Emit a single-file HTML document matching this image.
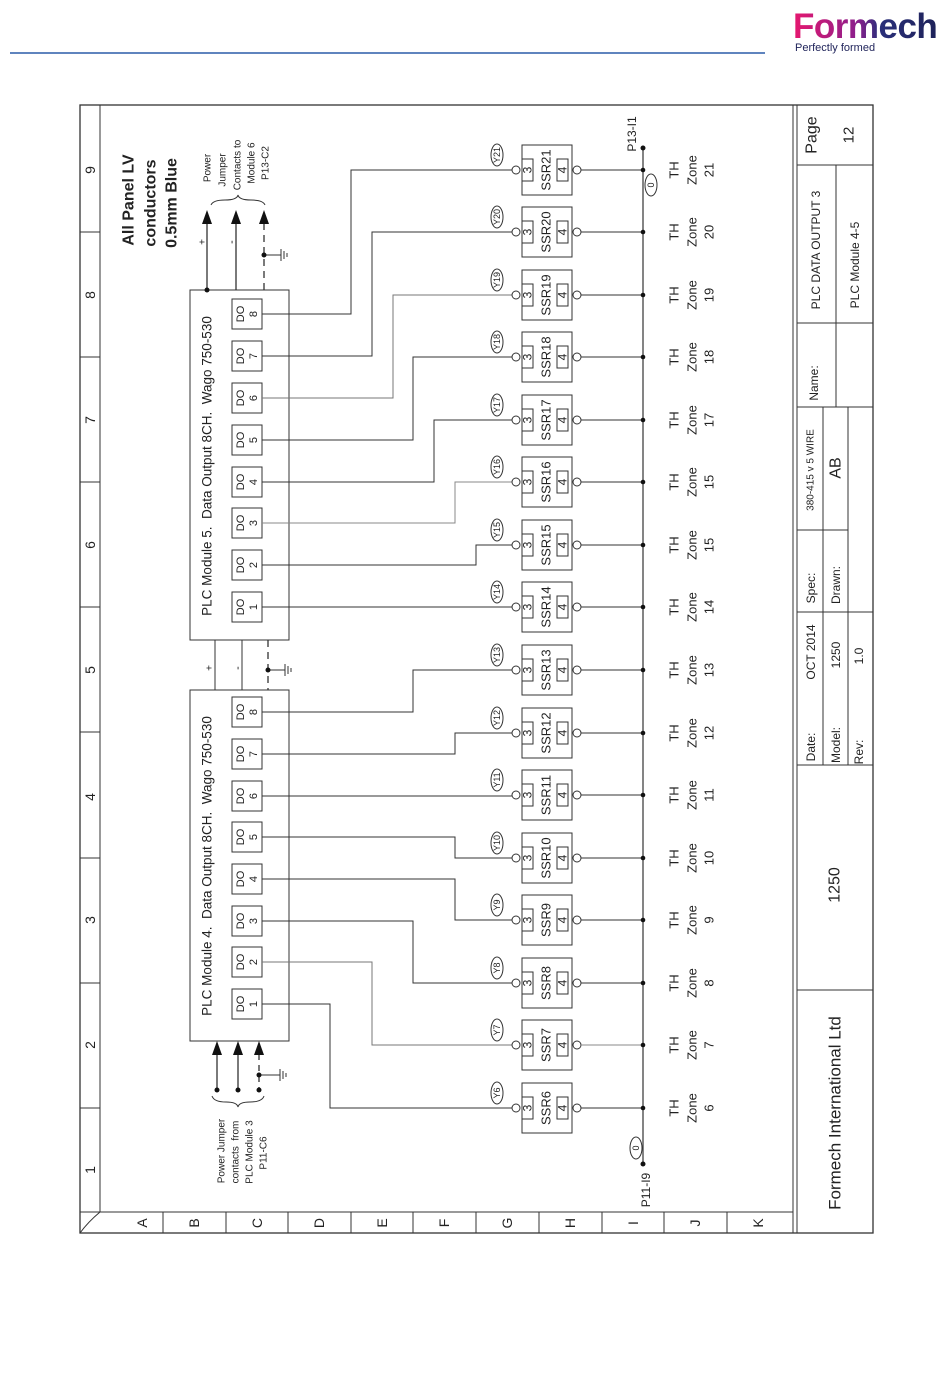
<!DOCTYPE html>
<html><head><meta charset="utf-8"><style>
html,body{margin:0;padding:0;background:#fff;}
svg{display:block;}
text{font-family:"Liberation Sans",Arial,sans-serif;fill:#222;}
.r{text-anchor:middle;dominant-baseline:central;}
</style></head><body>
<svg width="950" height="1387" viewBox="0 0 950 1387" xmlns="http://www.w3.org/2000/svg">
<defs>
<linearGradient id="lg" x1="0" x2="1" y1="0" y2="0"><stop offset="0" stop-color="#e6176f"/><stop offset="0.45" stop-color="#8a1f8c"/><stop offset="0.6" stop-color="#2a2f7a"/><stop offset="1" stop-color="#1e2259"/></linearGradient>
<g id="gnd" stroke="#333" stroke-width="1" fill="none"><line x1="0" y1="-6" x2="0" y2="6"/><line x1="3" y1="-4" x2="3" y2="4"/><line x1="6" y1="-2" x2="6" y2="2"/></g>
</defs>
<!-- header -->
<text x="793" y="38" style="font-size:35px;font-weight:bold;fill:url(#lg);letter-spacing:-0.5px">Formech</text>
<text x="795" y="51" style="font-size:11px;fill:#1e2259">Perfectly formed</text>
<line x1="10" y1="53" x2="765" y2="53" stroke="#2a5ca8" stroke-width="1.5"/>

<g stroke="#333" fill="none" stroke-width="1">
<!-- frame -->
<rect x="80" y="105" width="793" height="1128" stroke-width="1.3"/>
<line x1="100" y1="105" x2="100" y2="1212"/>
<line x1="80" y1="1212" x2="793" y2="1212"/>
<line x1="793" y1="105" x2="793" y2="1233"/>
<line x1="797" y1="105" x2="797" y2="1233"/>
<path d="M80 1233 Q88 1222 100 1212" />
<!-- column dividers -->
<line x1="80" y1="232" x2="100" y2="232"/><line x1="80" y1="357" x2="100" y2="357"/><line x1="80" y1="482" x2="100" y2="482"/><line x1="80" y1="607" x2="100" y2="607"/><line x1="80" y1="732" x2="100" y2="732"/><line x1="80" y1="858" x2="100" y2="858"/><line x1="80" y1="983" x2="100" y2="983"/><line x1="80" y1="1108" x2="100" y2="1108"/>
<!-- row dividers -->
<line x1="163" y1="1212" x2="163" y2="1233"/><line x1="226" y1="1212" x2="226" y2="1233"/><line x1="288" y1="1212" x2="288" y2="1233"/><line x1="351" y1="1212" x2="351" y2="1233"/><line x1="413" y1="1212" x2="413" y2="1233"/><line x1="476" y1="1212" x2="476" y2="1233"/><line x1="539" y1="1212" x2="539" y2="1233"/><line x1="602" y1="1212" x2="602" y2="1233"/><line x1="664" y1="1212" x2="664" y2="1233"/><line x1="727" y1="1212" x2="727" y2="1233"/>
<!-- title block -->
<line x1="797" y1="165" x2="873" y2="165"/>
<line x1="836" y1="165" x2="836" y2="407"/>
<line x1="797" y1="323" x2="873" y2="323"/>
<line x1="797" y1="407" x2="873" y2="407"/>
<line x1="823" y1="407" x2="823" y2="765"/>
<line x1="848" y1="407" x2="848" y2="765"/>
<line x1="797" y1="530" x2="848" y2="530"/>
<line x1="797" y1="612" x2="873" y2="612"/>
<line x1="797" y1="765" x2="873" y2="765"/>
<line x1="797" y1="990" x2="873" y2="990"/>

<!-- modules -->
<rect x="190" y="290" width="99" height="350"/>
<rect x="190" y="690" width="99" height="351"/>
<!-- DO boxes module5 -->
<rect x="232" y="299" width="30" height="30"/><rect x="232" y="341" width="30" height="30"/><rect x="232" y="383" width="30" height="30"/><rect x="232" y="425" width="30" height="30"/><rect x="232" y="467" width="30" height="30"/><rect x="232" y="508" width="30" height="30"/><rect x="232" y="550" width="30" height="30"/><rect x="232" y="592" width="30" height="30"/>
<!-- DO boxes module4 -->
<rect x="232" y="697" width="30" height="30"/><rect x="232" y="739" width="30" height="30"/><rect x="232" y="781" width="30" height="30"/><rect x="232" y="822" width="30" height="30"/><rect x="232" y="864" width="30" height="30"/><rect x="232" y="906" width="30" height="30"/><rect x="232" y="947" width="30" height="30"/><rect x="232" y="989" width="30" height="30"/>

<!-- wires module 4 -->
<polyline points="262,712 413,712 413,670 512,670"/>
<polyline points="262,754 455,754 455,733 512,733"/>
<polyline points="262,796 512,796"/>
<polyline points="262,837 455,837 455,858 512,858"/>
<polyline points="262,879 455,879 455,920 512,920"/>
<polyline points="262,921 413,921 413,983 512,983"/>
<polyline points="262,962 372,962 372,1045 512,1045" stroke="#777"/>
<polyline points="262,1004 330,1004 330,1108 512,1108"/>
<!-- wires module 5 -->
<polyline points="262,314 351,314 351,170 512,170"/>
<polyline points="262,356 372,356 372,232 512,232"/>
<polyline points="262,398 393,398 393,295 512,295" stroke="#777"/>
<polyline points="262,440 413,440 413,357 512,357"/>
<polyline points="262,482 434,482 434,420 512,420"/>
<polyline points="262,523 455,523 455,482 512,482" stroke="#888"/>
<polyline points="262,565 476,565 476,545 512,545"/>
<polyline points="262,607 512,607"/>

<!-- bus -->
<line x1="643" y1="148" x2="643" y2="1164" stroke-width="1.2"/>
<ellipse cx="651" cy="185" rx="6" ry="11"/>
<ellipse cx="636" cy="1148" rx="6" ry="11"/>

<!-- power top module5 -->
<line x1="207" y1="290" x2="207" y2="222" stroke-width="1.3"/>
<line x1="236" y1="290" x2="236" y2="222" stroke-width="1.3"/>
<line x1="264" y1="290" x2="264" y2="222" stroke-dasharray="7,5" stroke-width="1.3"/>
<line x1="264" y1="255" x2="281" y2="255"/>
<use href="#gnd" x="281" y="255"/>
<path d="M211 205 Q213 200 225 200 Q237 200 238 195 Q239 200 251 200 Q263 200 265 205"/>
<!-- between modules -->
<line x1="215" y1="640" x2="215" y2="690"/>
<line x1="242" y1="640" x2="242" y2="690"/>
<line x1="268" y1="640" x2="268" y2="690" stroke-dasharray="7,5" stroke-width="1.3"/>
<line x1="268" y1="670" x2="285" y2="670"/>
<use href="#gnd" x="285" y="670"/>
<!-- bottom module4 -->
<line x1="217" y1="1054" x2="217" y2="1090" stroke-width="1.3"/>
<line x1="238" y1="1054" x2="238" y2="1090" stroke-width="1.3"/>
<line x1="259" y1="1054" x2="259" y2="1090" stroke-dasharray="6,5" stroke-width="1.3"/>
<line x1="259" y1="1075" x2="280" y2="1075"/>
<use href="#gnd" x="280" y="1075"/>
<path d="M212 1096 Q214 1102 226 1102 Q237 1102 238 1107 Q239 1102 250 1102 Q262 1102 264 1096"/>
</g>
<g fill="#111" stroke="none">
<polygon points="207,210 202,224 212,224"/><polygon points="236,210 231,224 241,224"/><polygon points="264,210 259,224 269,224"/>
<circle cx="207" cy="290" r="2.5"/><circle cx="264" cy="255" r="2.5"/><circle cx="268" cy="670" r="2.5"/>
<polygon points="217,1041 212,1055 222,1055"/><polygon points="238,1041 233,1055 243,1055"/><polygon points="259,1041 254,1055 264,1055"/>
<circle cx="217" cy="1090" r="2.5"/><circle cx="238" cy="1090" r="2.5"/><circle cx="259" cy="1090" r="2.5"/><circle cx="259" cy="1075" r="2.5"/>
<circle cx="643" cy="148" r="2.5"/><circle cx="643" cy="1164" r="2.5"/>
</g>

<!-- SSR groups -->
<g id="ssrs" stroke="#333" fill="none">
</g>
<g transform="translate(0,170)"><g stroke="#333" fill="none"><rect x="522" y="-25" width="50" height="50"/><rect x="522" y="-11" width="11" height="22"/><rect x="557" y="-11" width="11" height="22"/><circle cx="516" cy="0" r="4" fill="#fff"/><circle cx="577" cy="0" r="4" fill="#fff"/><line x1="581" y1="0" x2="643" y2="0"/><ellipse cx="497" cy="-15" rx="6" ry="11"/></g><circle cx="643" cy="0" r="2.3" fill="#111"/><text class="r" transform="translate(497,-15) rotate(-90)" style="font-size:9px">Y21</text><text class="r" transform="translate(527.5,0) rotate(-90)" style="font-size:12px">3</text><text class="r" transform="translate(562.5,0) rotate(-90)" style="font-size:12px">4</text><text class="r" transform="translate(546,0) rotate(-90)" style="font-size:13px">SSR21</text><text class="r" transform="translate(674,0) rotate(-90)" style="font-size:13px">TH</text><text class="r" transform="translate(692,0) rotate(-90)" style="font-size:13px">Zone</text><text class="r" transform="translate(709,0) rotate(-90)" style="font-size:13px">21</text></g>
<g transform="translate(0,232)"><g stroke="#333" fill="none"><rect x="522" y="-25" width="50" height="50"/><rect x="522" y="-11" width="11" height="22"/><rect x="557" y="-11" width="11" height="22"/><circle cx="516" cy="0" r="4" fill="#fff"/><circle cx="577" cy="0" r="4" fill="#fff"/><line x1="581" y1="0" x2="643" y2="0"/><ellipse cx="497" cy="-15" rx="6" ry="11"/></g><circle cx="643" cy="0" r="2.3" fill="#111"/><text class="r" transform="translate(497,-15) rotate(-90)" style="font-size:9px">Y20</text><text class="r" transform="translate(527.5,0) rotate(-90)" style="font-size:12px">3</text><text class="r" transform="translate(562.5,0) rotate(-90)" style="font-size:12px">4</text><text class="r" transform="translate(546,0) rotate(-90)" style="font-size:13px">SSR20</text><text class="r" transform="translate(674,0) rotate(-90)" style="font-size:13px">TH</text><text class="r" transform="translate(692,0) rotate(-90)" style="font-size:13px">Zone</text><text class="r" transform="translate(709,0) rotate(-90)" style="font-size:13px">20</text></g>
<g transform="translate(0,295)"><g stroke="#333" fill="none"><rect x="522" y="-25" width="50" height="50"/><rect x="522" y="-11" width="11" height="22"/><rect x="557" y="-11" width="11" height="22"/><circle cx="516" cy="0" r="4" fill="#fff"/><circle cx="577" cy="0" r="4" fill="#fff"/><line x1="581" y1="0" x2="643" y2="0"/><ellipse cx="497" cy="-15" rx="6" ry="11"/></g><circle cx="643" cy="0" r="2.3" fill="#111"/><text class="r" transform="translate(497,-15) rotate(-90)" style="font-size:9px">Y19</text><text class="r" transform="translate(527.5,0) rotate(-90)" style="font-size:12px">3</text><text class="r" transform="translate(562.5,0) rotate(-90)" style="font-size:12px">4</text><text class="r" transform="translate(546,0) rotate(-90)" style="font-size:13px">SSR19</text><text class="r" transform="translate(674,0) rotate(-90)" style="font-size:13px">TH</text><text class="r" transform="translate(692,0) rotate(-90)" style="font-size:13px">Zone</text><text class="r" transform="translate(709,0) rotate(-90)" style="font-size:13px">19</text></g>
<g transform="translate(0,357)"><g stroke="#333" fill="none"><rect x="522" y="-25" width="50" height="50"/><rect x="522" y="-11" width="11" height="22"/><rect x="557" y="-11" width="11" height="22"/><circle cx="516" cy="0" r="4" fill="#fff"/><circle cx="577" cy="0" r="4" fill="#fff"/><line x1="581" y1="0" x2="643" y2="0"/><ellipse cx="497" cy="-15" rx="6" ry="11"/></g><circle cx="643" cy="0" r="2.3" fill="#111"/><text class="r" transform="translate(497,-15) rotate(-90)" style="font-size:9px">Y18</text><text class="r" transform="translate(527.5,0) rotate(-90)" style="font-size:12px">3</text><text class="r" transform="translate(562.5,0) rotate(-90)" style="font-size:12px">4</text><text class="r" transform="translate(546,0) rotate(-90)" style="font-size:13px">SSR18</text><text class="r" transform="translate(674,0) rotate(-90)" style="font-size:13px">TH</text><text class="r" transform="translate(692,0) rotate(-90)" style="font-size:13px">Zone</text><text class="r" transform="translate(709,0) rotate(-90)" style="font-size:13px">18</text></g>
<g transform="translate(0,420)"><g stroke="#333" fill="none"><rect x="522" y="-25" width="50" height="50"/><rect x="522" y="-11" width="11" height="22"/><rect x="557" y="-11" width="11" height="22"/><circle cx="516" cy="0" r="4" fill="#fff"/><circle cx="577" cy="0" r="4" fill="#fff"/><line x1="581" y1="0" x2="643" y2="0"/><ellipse cx="497" cy="-15" rx="6" ry="11"/></g><circle cx="643" cy="0" r="2.3" fill="#111"/><text class="r" transform="translate(497,-15) rotate(-90)" style="font-size:9px">Y17</text><text class="r" transform="translate(527.5,0) rotate(-90)" style="font-size:12px">3</text><text class="r" transform="translate(562.5,0) rotate(-90)" style="font-size:12px">4</text><text class="r" transform="translate(546,0) rotate(-90)" style="font-size:13px">SSR17</text><text class="r" transform="translate(674,0) rotate(-90)" style="font-size:13px">TH</text><text class="r" transform="translate(692,0) rotate(-90)" style="font-size:13px">Zone</text><text class="r" transform="translate(709,0) rotate(-90)" style="font-size:13px">17</text></g>
<g transform="translate(0,482)"><g stroke="#333" fill="none"><rect x="522" y="-25" width="50" height="50"/><rect x="522" y="-11" width="11" height="22"/><rect x="557" y="-11" width="11" height="22"/><circle cx="516" cy="0" r="4" fill="#fff"/><circle cx="577" cy="0" r="4" fill="#fff"/><line x1="581" y1="0" x2="643" y2="0"/><ellipse cx="497" cy="-15" rx="6" ry="11"/></g><circle cx="643" cy="0" r="2.3" fill="#111"/><text class="r" transform="translate(497,-15) rotate(-90)" style="font-size:9px">Y16</text><text class="r" transform="translate(527.5,0) rotate(-90)" style="font-size:12px">3</text><text class="r" transform="translate(562.5,0) rotate(-90)" style="font-size:12px">4</text><text class="r" transform="translate(546,0) rotate(-90)" style="font-size:13px">SSR16</text><text class="r" transform="translate(674,0) rotate(-90)" style="font-size:13px">TH</text><text class="r" transform="translate(692,0) rotate(-90)" style="font-size:13px">Zone</text><text class="r" transform="translate(709,0) rotate(-90)" style="font-size:13px">15</text></g>
<g transform="translate(0,545)"><g stroke="#333" fill="none"><rect x="522" y="-25" width="50" height="50"/><rect x="522" y="-11" width="11" height="22"/><rect x="557" y="-11" width="11" height="22"/><circle cx="516" cy="0" r="4" fill="#fff"/><circle cx="577" cy="0" r="4" fill="#fff"/><line x1="581" y1="0" x2="643" y2="0"/><ellipse cx="497" cy="-15" rx="6" ry="11"/></g><circle cx="643" cy="0" r="2.3" fill="#111"/><text class="r" transform="translate(497,-15) rotate(-90)" style="font-size:9px">Y15</text><text class="r" transform="translate(527.5,0) rotate(-90)" style="font-size:12px">3</text><text class="r" transform="translate(562.5,0) rotate(-90)" style="font-size:12px">4</text><text class="r" transform="translate(546,0) rotate(-90)" style="font-size:13px">SSR15</text><text class="r" transform="translate(674,0) rotate(-90)" style="font-size:13px">TH</text><text class="r" transform="translate(692,0) rotate(-90)" style="font-size:13px">Zone</text><text class="r" transform="translate(709,0) rotate(-90)" style="font-size:13px">15</text></g>
<g transform="translate(0,607)"><g stroke="#333" fill="none"><rect x="522" y="-25" width="50" height="50"/><rect x="522" y="-11" width="11" height="22"/><rect x="557" y="-11" width="11" height="22"/><circle cx="516" cy="0" r="4" fill="#fff"/><circle cx="577" cy="0" r="4" fill="#fff"/><line x1="581" y1="0" x2="643" y2="0"/><ellipse cx="497" cy="-15" rx="6" ry="11"/></g><circle cx="643" cy="0" r="2.3" fill="#111"/><text class="r" transform="translate(497,-15) rotate(-90)" style="font-size:9px">Y14</text><text class="r" transform="translate(527.5,0) rotate(-90)" style="font-size:12px">3</text><text class="r" transform="translate(562.5,0) rotate(-90)" style="font-size:12px">4</text><text class="r" transform="translate(546,0) rotate(-90)" style="font-size:13px">SSR14</text><text class="r" transform="translate(674,0) rotate(-90)" style="font-size:13px">TH</text><text class="r" transform="translate(692,0) rotate(-90)" style="font-size:13px">Zone</text><text class="r" transform="translate(709,0) rotate(-90)" style="font-size:13px">14</text></g>
<g transform="translate(0,670)"><g stroke="#333" fill="none"><rect x="522" y="-25" width="50" height="50"/><rect x="522" y="-11" width="11" height="22"/><rect x="557" y="-11" width="11" height="22"/><circle cx="516" cy="0" r="4" fill="#fff"/><circle cx="577" cy="0" r="4" fill="#fff"/><line x1="581" y1="0" x2="643" y2="0"/><ellipse cx="497" cy="-15" rx="6" ry="11"/></g><circle cx="643" cy="0" r="2.3" fill="#111"/><text class="r" transform="translate(497,-15) rotate(-90)" style="font-size:9px">Y13</text><text class="r" transform="translate(527.5,0) rotate(-90)" style="font-size:12px">3</text><text class="r" transform="translate(562.5,0) rotate(-90)" style="font-size:12px">4</text><text class="r" transform="translate(546,0) rotate(-90)" style="font-size:13px">SSR13</text><text class="r" transform="translate(674,0) rotate(-90)" style="font-size:13px">TH</text><text class="r" transform="translate(692,0) rotate(-90)" style="font-size:13px">Zone</text><text class="r" transform="translate(709,0) rotate(-90)" style="font-size:13px">13</text></g>
<g transform="translate(0,733)"><g stroke="#333" fill="none"><rect x="522" y="-25" width="50" height="50"/><rect x="522" y="-11" width="11" height="22"/><rect x="557" y="-11" width="11" height="22"/><circle cx="516" cy="0" r="4" fill="#fff"/><circle cx="577" cy="0" r="4" fill="#fff"/><line x1="581" y1="0" x2="643" y2="0"/><ellipse cx="497" cy="-15" rx="6" ry="11"/></g><circle cx="643" cy="0" r="2.3" fill="#111"/><text class="r" transform="translate(497,-15) rotate(-90)" style="font-size:9px">Y12</text><text class="r" transform="translate(527.5,0) rotate(-90)" style="font-size:12px">3</text><text class="r" transform="translate(562.5,0) rotate(-90)" style="font-size:12px">4</text><text class="r" transform="translate(546,0) rotate(-90)" style="font-size:13px">SSR12</text><text class="r" transform="translate(674,0) rotate(-90)" style="font-size:13px">TH</text><text class="r" transform="translate(692,0) rotate(-90)" style="font-size:13px">Zone</text><text class="r" transform="translate(709,0) rotate(-90)" style="font-size:13px">12</text></g>
<g transform="translate(0,795)"><g stroke="#333" fill="none"><rect x="522" y="-25" width="50" height="50"/><rect x="522" y="-11" width="11" height="22"/><rect x="557" y="-11" width="11" height="22"/><circle cx="516" cy="0" r="4" fill="#fff"/><circle cx="577" cy="0" r="4" fill="#fff"/><line x1="581" y1="0" x2="643" y2="0"/><ellipse cx="497" cy="-15" rx="6" ry="11"/></g><circle cx="643" cy="0" r="2.3" fill="#111"/><text class="r" transform="translate(497,-15) rotate(-90)" style="font-size:9px">Y11</text><text class="r" transform="translate(527.5,0) rotate(-90)" style="font-size:12px">3</text><text class="r" transform="translate(562.5,0) rotate(-90)" style="font-size:12px">4</text><text class="r" transform="translate(546,0) rotate(-90)" style="font-size:13px">SSR11</text><text class="r" transform="translate(674,0) rotate(-90)" style="font-size:13px">TH</text><text class="r" transform="translate(692,0) rotate(-90)" style="font-size:13px">Zone</text><text class="r" transform="translate(709,0) rotate(-90)" style="font-size:13px">11</text></g>
<g transform="translate(0,858)"><g stroke="#333" fill="none"><rect x="522" y="-25" width="50" height="50"/><rect x="522" y="-11" width="11" height="22"/><rect x="557" y="-11" width="11" height="22"/><circle cx="516" cy="0" r="4" fill="#fff"/><circle cx="577" cy="0" r="4" fill="#fff"/><line x1="581" y1="0" x2="643" y2="0"/><ellipse cx="497" cy="-15" rx="6" ry="11"/></g><circle cx="643" cy="0" r="2.3" fill="#111"/><text class="r" transform="translate(497,-15) rotate(-90)" style="font-size:9px">Y10</text><text class="r" transform="translate(527.5,0) rotate(-90)" style="font-size:12px">3</text><text class="r" transform="translate(562.5,0) rotate(-90)" style="font-size:12px">4</text><text class="r" transform="translate(546,0) rotate(-90)" style="font-size:13px">SSR10</text><text class="r" transform="translate(674,0) rotate(-90)" style="font-size:13px">TH</text><text class="r" transform="translate(692,0) rotate(-90)" style="font-size:13px">Zone</text><text class="r" transform="translate(709,0) rotate(-90)" style="font-size:13px">10</text></g>
<g transform="translate(0,920)"><g stroke="#333" fill="none"><rect x="522" y="-25" width="50" height="50"/><rect x="522" y="-11" width="11" height="22"/><rect x="557" y="-11" width="11" height="22"/><circle cx="516" cy="0" r="4" fill="#fff"/><circle cx="577" cy="0" r="4" fill="#fff"/><line x1="581" y1="0" x2="643" y2="0"/><ellipse cx="497" cy="-15" rx="6" ry="11"/></g><circle cx="643" cy="0" r="2.3" fill="#111"/><text class="r" transform="translate(497,-15) rotate(-90)" style="font-size:9px">Y9</text><text class="r" transform="translate(527.5,0) rotate(-90)" style="font-size:12px">3</text><text class="r" transform="translate(562.5,0) rotate(-90)" style="font-size:12px">4</text><text class="r" transform="translate(546,0) rotate(-90)" style="font-size:13px">SSR9</text><text class="r" transform="translate(674,0) rotate(-90)" style="font-size:13px">TH</text><text class="r" transform="translate(692,0) rotate(-90)" style="font-size:13px">Zone</text><text class="r" transform="translate(709,0) rotate(-90)" style="font-size:13px">9</text></g>
<g transform="translate(0,983)"><g stroke="#333" fill="none"><rect x="522" y="-25" width="50" height="50"/><rect x="522" y="-11" width="11" height="22"/><rect x="557" y="-11" width="11" height="22"/><circle cx="516" cy="0" r="4" fill="#fff"/><circle cx="577" cy="0" r="4" fill="#fff"/><line x1="581" y1="0" x2="643" y2="0"/><ellipse cx="497" cy="-15" rx="6" ry="11"/></g><circle cx="643" cy="0" r="2.3" fill="#111"/><text class="r" transform="translate(497,-15) rotate(-90)" style="font-size:9px">Y8</text><text class="r" transform="translate(527.5,0) rotate(-90)" style="font-size:12px">3</text><text class="r" transform="translate(562.5,0) rotate(-90)" style="font-size:12px">4</text><text class="r" transform="translate(546,0) rotate(-90)" style="font-size:13px">SSR8</text><text class="r" transform="translate(674,0) rotate(-90)" style="font-size:13px">TH</text><text class="r" transform="translate(692,0) rotate(-90)" style="font-size:13px">Zone</text><text class="r" transform="translate(709,0) rotate(-90)" style="font-size:13px">8</text></g>
<g transform="translate(0,1045)"><g stroke="#333" fill="none"><rect x="522" y="-25" width="50" height="50"/><rect x="522" y="-11" width="11" height="22"/><rect x="557" y="-11" width="11" height="22"/><circle cx="516" cy="0" r="4" fill="#fff"/><circle cx="577" cy="0" r="4" fill="#fff"/><line x1="581" y1="0" x2="643" y2="0" stroke="#888"/><ellipse cx="497" cy="-15" rx="6" ry="11"/></g><circle cx="643" cy="0" r="2.3" fill="#111"/><text class="r" transform="translate(497,-15) rotate(-90)" style="font-size:9px">Y7</text><text class="r" transform="translate(527.5,0) rotate(-90)" style="font-size:12px">3</text><text class="r" transform="translate(562.5,0) rotate(-90)" style="font-size:12px">4</text><text class="r" transform="translate(546,0) rotate(-90)" style="font-size:13px">SSR7</text><text class="r" transform="translate(674,0) rotate(-90)" style="font-size:13px">TH</text><text class="r" transform="translate(692,0) rotate(-90)" style="font-size:13px">Zone</text><text class="r" transform="translate(709,0) rotate(-90)" style="font-size:13px">7</text></g>
<g transform="translate(0,1108)"><g stroke="#333" fill="none"><rect x="522" y="-25" width="50" height="50"/><rect x="522" y="-11" width="11" height="22"/><rect x="557" y="-11" width="11" height="22"/><circle cx="516" cy="0" r="4" fill="#fff"/><circle cx="577" cy="0" r="4" fill="#fff"/><line x1="581" y1="0" x2="643" y2="0"/><ellipse cx="497" cy="-15" rx="6" ry="11"/></g><circle cx="643" cy="0" r="2.3" fill="#111"/><text class="r" transform="translate(497,-15) rotate(-90)" style="font-size:9px">Y6</text><text class="r" transform="translate(527.5,0) rotate(-90)" style="font-size:12px">3</text><text class="r" transform="translate(562.5,0) rotate(-90)" style="font-size:12px">4</text><text class="r" transform="translate(546,0) rotate(-90)" style="font-size:13px">SSR6</text><text class="r" transform="translate(674,0) rotate(-90)" style="font-size:13px">TH</text><text class="r" transform="translate(692,0) rotate(-90)" style="font-size:13px">Zone</text><text class="r" transform="translate(709,0) rotate(-90)" style="font-size:13px">6</text></g>

<!-- bus labels -->
<text class="r" transform="translate(632,134) rotate(-90)" style="font-size:12px">P13-I1</text>
<text class="r" transform="translate(646,1190) rotate(-90)" style="font-size:12px">P11-I9</text>
<text class="r" transform="translate(651,185) rotate(-90)" style="font-size:9px">0</text>
<text class="r" transform="translate(636,1148) rotate(-90)" style="font-size:9px">0</text>

<!-- DO labels -->
<g style="font-size:11px">
<text class="r" transform="translate(241,314) rotate(-90)">DO</text><text class="r" transform="translate(254,314) rotate(-90)">8</text>
<text class="r" transform="translate(241,356) rotate(-90)">DO</text><text class="r" transform="translate(254,356) rotate(-90)">7</text>
<text class="r" transform="translate(241,398) rotate(-90)">DO</text><text class="r" transform="translate(254,398) rotate(-90)">6</text>
<text class="r" transform="translate(241,440) rotate(-90)">DO</text><text class="r" transform="translate(254,440) rotate(-90)">5</text>
<text class="r" transform="translate(241,482) rotate(-90)">DO</text><text class="r" transform="translate(254,482) rotate(-90)">4</text>
<text class="r" transform="translate(241,523) rotate(-90)">DO</text><text class="r" transform="translate(254,523) rotate(-90)">3</text>
<text class="r" transform="translate(241,565) rotate(-90)">DO</text><text class="r" transform="translate(254,565) rotate(-90)">2</text>
<text class="r" transform="translate(241,607) rotate(-90)">DO</text><text class="r" transform="translate(254,607) rotate(-90)">1</text>
<text class="r" transform="translate(241,712) rotate(-90)">DO</text><text class="r" transform="translate(254,712) rotate(-90)">8</text>
<text class="r" transform="translate(241,754) rotate(-90)">DO</text><text class="r" transform="translate(254,754) rotate(-90)">7</text>
<text class="r" transform="translate(241,796) rotate(-90)">DO</text><text class="r" transform="translate(254,796) rotate(-90)">6</text>
<text class="r" transform="translate(241,837) rotate(-90)">DO</text><text class="r" transform="translate(254,837) rotate(-90)">5</text>
<text class="r" transform="translate(241,879) rotate(-90)">DO</text><text class="r" transform="translate(254,879) rotate(-90)">4</text>
<text class="r" transform="translate(241,921) rotate(-90)">DO</text><text class="r" transform="translate(254,921) rotate(-90)">3</text>
<text class="r" transform="translate(241,962) rotate(-90)">DO</text><text class="r" transform="translate(254,962) rotate(-90)">2</text>
<text class="r" transform="translate(241,1004) rotate(-90)">DO</text><text class="r" transform="translate(254,1004) rotate(-90)">1</text>
</g>
<text class="r" transform="translate(207,466) rotate(-90)" style="font-size:13.5px" xml:space="preserve">PLC Module 5.  Data Output 8CH.  Wago 750-530</text>
<text class="r" transform="translate(207,866) rotate(-90)" style="font-size:13.5px" xml:space="preserve">PLC Module 4.  Data Output 8CH.  Wago 750-530</text>

<!-- power texts -->
<text class="r" transform="translate(203,242) rotate(-90)" style="font-size:10px">+</text>
<text class="r" transform="translate(232,242) rotate(-90)" style="font-size:11px">-</text>
<text class="r" transform="translate(210,668) rotate(-90)" style="font-size:10px">+</text>
<text class="r" transform="translate(238,668) rotate(-90)" style="font-size:11px">-</text>
<g style="font-size:10px">
<text class="r" transform="translate(208,168) rotate(-90)">Power</text>
<text class="r" transform="translate(223,170) rotate(-90)">Jumper</text>
<text class="r" transform="translate(238,165) rotate(-90)">Contacts to</text>
<text class="r" transform="translate(252,163) rotate(-90)">Module 6</text>
<text class="r" transform="translate(266,163) rotate(-90)">P13-C2</text>
<text class="r" transform="translate(222,1151) rotate(-90)">Power Jumper</text>
<text class="r" transform="translate(236,1152) rotate(-90)" xml:space="preserve">contacts  from</text>
<text class="r" transform="translate(250,1152) rotate(-90)">PLC Module 3</text>
<text class="r" transform="translate(264,1153) rotate(-90)">P11-C6</text>
</g>
<g style="font-size:16px;font-weight:bold">
<text class="r" transform="translate(129,200) rotate(-90)">All Panel LV</text>
<text class="r" transform="translate(151,203) rotate(-90)">conductors</text>
<text class="r" transform="translate(172,203) rotate(-90)">0.5mm Blue</text>
</g>

<!-- column numbers -->
<g style="font-size:14px">
<text class="r" transform="translate(90,170) rotate(-90)">9</text>
<text class="r" transform="translate(90,295) rotate(-90)">8</text>
<text class="r" transform="translate(90,420) rotate(-90)">7</text>
<text class="r" transform="translate(90,545) rotate(-90)">6</text>
<text class="r" transform="translate(90,670) rotate(-90)">5</text>
<text class="r" transform="translate(90,797) rotate(-90)">4</text>
<text class="r" transform="translate(90,920) rotate(-90)">3</text>
<text class="r" transform="translate(90,1045) rotate(-90)">2</text>
<text class="r" transform="translate(90,1170) rotate(-90)">1</text>
<text class="r" transform="translate(142,1223) rotate(-90)">A</text>
<text class="r" transform="translate(194,1223) rotate(-90)">B</text>
<text class="r" transform="translate(257,1223) rotate(-90)">C</text>
<text class="r" transform="translate(319,1223) rotate(-90)">D</text>
<text class="r" transform="translate(382,1223) rotate(-90)">E</text>
<text class="r" transform="translate(444,1223) rotate(-90)">F</text>
<text class="r" transform="translate(507,1223) rotate(-90)">G</text>
<text class="r" transform="translate(570,1223) rotate(-90)">H</text>
<text class="r" transform="translate(633,1223) rotate(-90)">I</text>
<text class="r" transform="translate(695,1223) rotate(-90)">J</text>
<text class="r" transform="translate(758,1223) rotate(-90)">K</text>
</g>

<!-- title block text -->
<text class="r" transform="translate(812,135) rotate(-90)" style="font-size:16px">Page</text>
<text class="r" transform="translate(849,135) rotate(-90)" style="font-size:15px">12</text>
<text class="r" transform="translate(816,250) rotate(-90)" style="font-size:12px">PLC DATA OUTPUT 3</text>
<text class="r" transform="translate(855,265) rotate(-90)" style="font-size:12px">PLC Module 4-5</text>
<text class="r" transform="translate(814,383) rotate(-90)" style="font-size:12px">Name:</text>
<text class="r" transform="translate(811,470) rotate(-90)" style="font-size:10px">380-415 v 5 WIRE</text>
<text class="r" transform="translate(836,468) rotate(-90)" style="font-size:16px">AB</text>
<text class="r" transform="translate(811,588) rotate(-90)" style="font-size:12px">Spec:</text>
<text class="r" transform="translate(836,585) rotate(-90)" style="font-size:12px">Drawn:</text>
<text class="r" transform="translate(811,652) rotate(-90)" style="font-size:12px">OCT 2014</text>
<text class="r" transform="translate(836,655) rotate(-90)" style="font-size:12px">1250</text>
<text class="r" transform="translate(859,656) rotate(-90)" style="font-size:12px">1.0</text>
<text class="r" transform="translate(811,747) rotate(-90)" style="font-size:12px">Date:</text>
<text class="r" transform="translate(836,745) rotate(-90)" style="font-size:12px">Model:</text>
<text class="r" transform="translate(859,752) rotate(-90)" style="font-size:12px">Rev:</text>
<text class="r" transform="translate(835,885) rotate(-90)" style="font-size:16px">1250</text>
<text class="r" transform="translate(835,1113) rotate(-90)" style="font-size:17px">Formech International Ltd</text>
</svg>
</body></html>
